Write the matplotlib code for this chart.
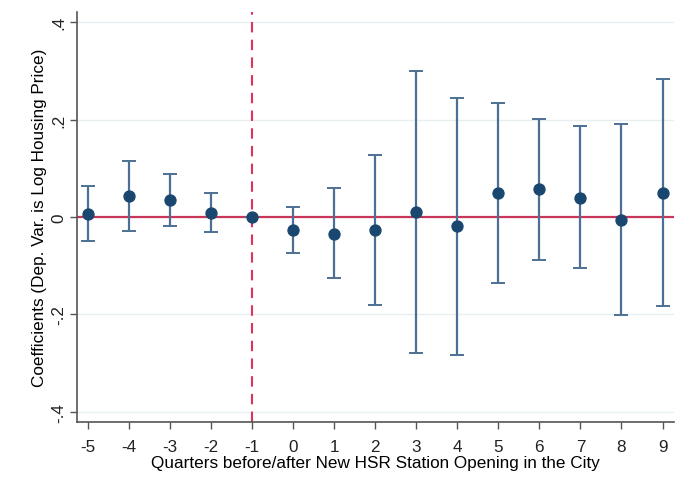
import matplotlib.pyplot as plt

plt.rcParams['font.family'] = ['Liberation Sans', 'DejaVu Sans']

# event-study estimates: quarters relative to station opening
quarters = [-5, -4, -3, -2, -1, 0, 1, 2, 3, 4, 5, 6, 7, 8, 9]
coef = [0.006, 0.043, 0.034, 0.009, 0.0, -0.027, -0.034, -0.027, 0.010,
        -0.019, 0.049, 0.057, 0.040, -0.006, 0.049]
ci_low = [-0.049, -0.028, -0.019, -0.030, 0.0, -0.074, -0.126, -0.181, -0.280,
          -0.284, -0.136, -0.088, -0.105, -0.202, -0.183]
ci_high = [0.063, 0.115, 0.089, 0.050, 0.0, 0.020, 0.060, 0.128, 0.299,
           0.245, 0.234, 0.202, 0.186, 0.191, 0.283]
yticks = [-0.4, -0.2, 0, 0.2, 0.4]
ytick_labels = ['-.4', '-.2', '0', '.2', '.4']

fig = plt.figure(figsize=(6.78, 4.81), dpi=100)
ax = fig.add_axes([77 / 678, 1 - 423 / 481, (674 - 77) / 678, (423 - 13) / 481])

ax.set_xlim(-5.27, 9.28)
ax.set_ylim(-0.421, 0.421)

for y in yticks:
    ax.axhline(y, color='#e8eff1', lw=1, zorder=0)

ax.axhline(0, color='#c8375a', lw=1.6, zorder=1)
ax.axvline(-1, color='#e0325a', lw=1.5, ls=(0, (5, 3.5)), zorder=1)

lower = [c - lo for c, lo in zip(coef, ci_low)]
upper = [hi - c for c, hi in zip(coef, ci_high)]
ax.errorbar(quarters, coef, yerr=[lower, upper], fmt='none', ecolor='#4c7094',
            elinewidth=1.6, capsize=5, capthick=1.4, zorder=2)
ax.scatter(quarters, coef, s=62, color='#1a476f', zorder=3)

ax.set_xticks(quarters)
ax.set_xticklabels([str(q) for q in quarters], fontsize=12.3)
ax.set_yticks(yticks)
ax.set_yticklabels(ytick_labels, fontsize=12.3, rotation=90, va='center')

for side in ['top', 'right']:
    ax.spines[side].set_visible(False)
for side in ['left', 'bottom']:
    ax.spines[side].set_color('#555555')
    ax.spines[side].set_linewidth(1.2)
ax.tick_params(length=5, width=1, color='#555555', colors='#222222')
ax.tick_params(axis='x', pad=7)
ax.tick_params(axis='y', pad=3)

ax.set_xlabel('Quarters before/after New HSR Station Opening in the City',
              fontsize=12.3, labelpad=1)
ax.set_ylabel('Coefficients (Dep. Var. is Log Housing Price)', fontsize=12.3,
              labelpad=3)

fig.savefig('out.png', dpi=100)
